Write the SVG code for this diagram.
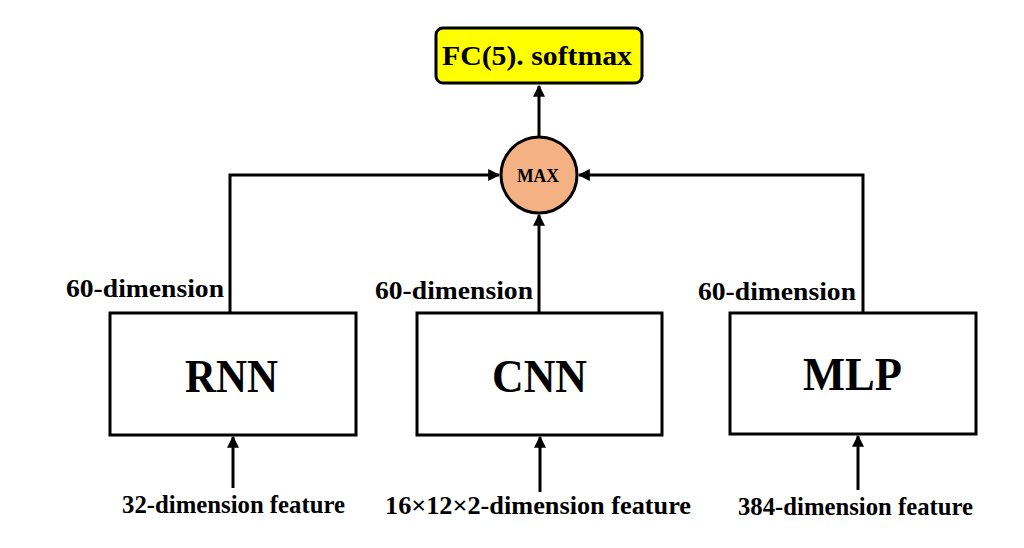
<svg xmlns="http://www.w3.org/2000/svg" width="1024" height="548" viewBox="0 0 1024 548">
<style>
.box{fill:#ffffff;stroke:#000;stroke-width:3}
.ln{fill:none;stroke:#000;stroke-width:3}
.big{font-family:"Liberation Serif",serif;font-weight:bold;font-size:46px;fill:#000}
.lbl{font-family:"Liberation Serif",serif;font-weight:bold;font-size:26px;fill:#000}
</style>
<defs>
<marker id="ah" viewBox="0 0 10 10" refX="9" refY="5" markerWidth="4" markerHeight="4" orient="auto" markerUnits="strokeWidth">
<path d="M0,0 L10,5 L0,10 z" fill="#000"/>
</marker>
</defs>
<rect width="1024" height="548" fill="#fff"/>
<g id="connectors">
<polyline class="ln" points="230,313 230,175 499,175" marker-end="url(#ah)"/>
<polyline class="ln" points="863,313 863,175 579,175" marker-end="url(#ah)"/>
<line class="ln" x1="539" y1="313" x2="539" y2="215" marker-end="url(#ah)"/>
<line class="ln" x1="539" y1="136" x2="539" y2="86" marker-end="url(#ah)"/>
<line class="ln" x1="233" y1="488" x2="233" y2="437" marker-end="url(#ah)"/>
<line class="ln" x1="540" y1="492" x2="540" y2="437" marker-end="url(#ah)"/>
<line class="ln" x1="858" y1="490" x2="858" y2="436" marker-end="url(#ah)"/>
</g>
<g id="fc">
<rect x="436" y="28" width="206" height="55" rx="7" fill="#ffff00" stroke="#000" stroke-width="3"/>
<text x="442" y="65" font-family="'Liberation Serif',serif" font-weight="bold" font-size="28" textLength="190" lengthAdjust="spacingAndGlyphs">FC(5). softmax</text>
</g>
<g id="max">
<circle cx="539" cy="175" r="38" fill="#f4b183" stroke="#000" stroke-width="3"/>
<text x="517" y="182" font-family="'Liberation Serif',serif" font-weight="bold" font-size="19" textLength="42" lengthAdjust="spacingAndGlyphs">MAX</text>
</g>
<g id="rnn">
<rect class="box" x="110" y="313" width="246" height="122"/>
<text class="big" x="185" y="392" textLength="93" lengthAdjust="spacingAndGlyphs">RNN</text>
<text class="lbl" x="66" y="297" textLength="158" lengthAdjust="spacingAndGlyphs">60-dimension</text>
<text class="lbl" x="122" y="513" textLength="223" lengthAdjust="spacingAndGlyphs">32-dimension feature</text>
</g>
<g id="cnn">
<rect class="box" x="417" y="313" width="245" height="122"/>
<text class="big" x="492" y="392" textLength="95" lengthAdjust="spacingAndGlyphs">CNN</text>
<text class="lbl" x="375" y="299" textLength="158" lengthAdjust="spacingAndGlyphs">60-dimension</text>
<text class="lbl" x="385" y="514" textLength="306" lengthAdjust="spacingAndGlyphs">16×12×2-dimension feature</text>
</g>
<g id="mlp">
<rect class="box" x="730" y="313" width="246" height="121"/>
<text class="big" x="803" y="390" textLength="99" lengthAdjust="spacingAndGlyphs">MLP</text>
<text class="lbl" x="698" y="300" textLength="158" lengthAdjust="spacingAndGlyphs">60-dimension</text>
<text class="lbl" x="738" y="515" textLength="235" lengthAdjust="spacingAndGlyphs">384-dimension feature</text>
</g>
</svg>
